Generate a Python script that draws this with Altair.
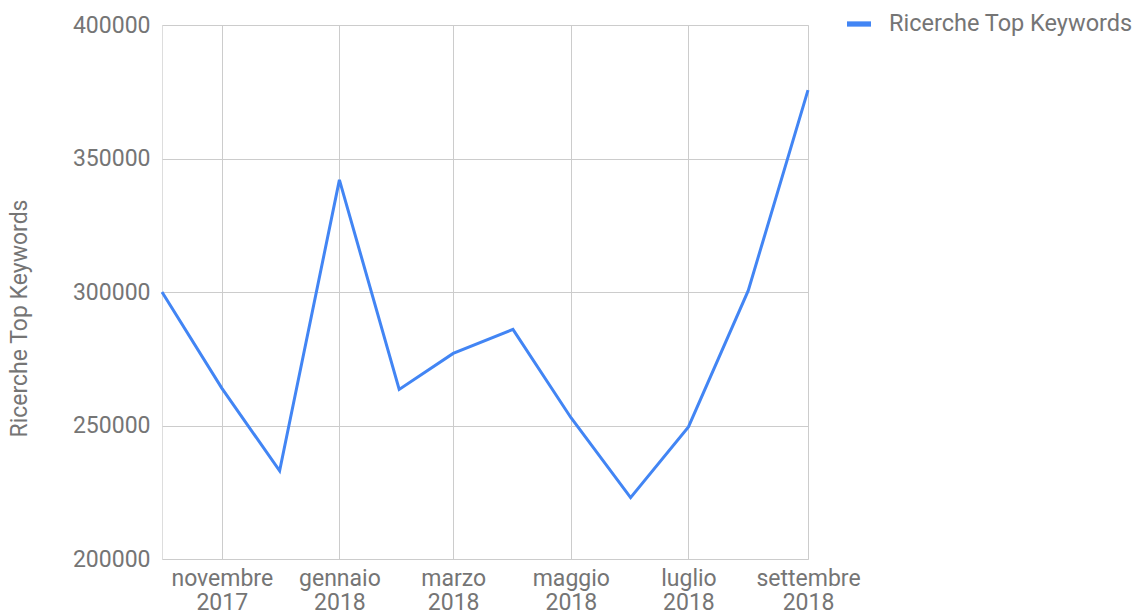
import altair as alt
import pandas as pd

# ---- data ----
mesi = ["2017-10-01", "2017-11-01", "2017-12-01", "2018-01-01", "2018-02-01", "2018-03-01",
        "2018-04-01", "2018-05-01", "2018-06-01", "2018-07-01", "2018-08-01", "2018-09-01"]
ricerche = [300000, 264000, 233000, 342000, 263500, 277000,
            286000, 253000, 223000, 249500, 300500, 375600]
serie_nome = "Ricerche Top Keywords"
tick_mesi = [(2017, 11), (2018, 1), (2018, 3), (2018, 5), (2018, 7), (2018, 9)]
nomi_mesi = ["gennaio", "febbraio", "marzo", "aprile", "maggio", "giugno",
             "luglio", "agosto", "settembre", "ottobre", "novembre", "dicembre"]
y_ticks = [200000, 250000, 300000, 350000, 400000]

df = pd.DataFrame({"mese": mesi, "ricerche": ricerche, "serie": [serie_nome] * len(mesi)})

GREY = "#757575"
BLUE = "#4285f4"
FONT = "Roboto"
FS = 23

label_expr = ("[[" + ",".join(f"'{m}'" for m in nomi_mesi) +
              "][utcmonth(datum.value)], '' + utcyear(datum.value)]")

x_vals = [alt.DateTime(year=y, month=m, date=1, utc=True) for (y, m) in tick_mesi]

chart = alt.Chart(df).mark_line(strokeWidth=3).encode(
    x=alt.X(
        "mese:T",
        scale=alt.Scale(type="utc", nice=False,
                        domain=[alt.DateTime(year=2017, month=10, date=1, utc=True),
                                alt.DateTime(year=2018, month=9, date=1, utc=True)]),
        axis=alt.Axis(title=None, values=x_vals, labelExpr=label_expr,
                      labelFontSize=FS, labelColor=GREY, labelFont=FONT,
                      labelLineHeight=24, labelPadding=8, ticks=False, domain=False,
                      grid=True, gridColor="#cccccc", labelOverlap=False,
                      labelFlush=False),
    ),
    y=alt.Y(
        "ricerche:Q",
        scale=alt.Scale(domain=[200000, 400000], nice=False, zero=False),
        axis=alt.Axis(title=serie_nome, values=y_ticks, format="d",
                      labelFontSize=FS, labelColor=GREY, labelFont=FONT,
                      labelPadding=12, ticks=False, domain=False,
                      grid=True, gridColor="#cccccc",
                      titleFontSize=FS, titleColor=GREY, titleFont=FONT,
                      titleFontWeight="normal", titleX=-143, titleY=293,
                      titleBaseline="middle", titleAlign="center", titleAngle=-90),
    ),
    color=alt.Color(
        "serie:N",
        scale=alt.Scale(range=[BLUE]),
        legend=alt.Legend(title=None, orient="none", legendX=685, legendY=-13,
                          symbolType="M-1,-0.22H1V0.22H-1Z", symbolSize=576,
                          symbolStrokeWidth=0, symbolFillColor=BLUE,
                          labelFontSize=23.5, labelColor=GREY, labelFont=FONT,
                          labelOffset=18, labelLimit=400, padding=0),
    ),
).properties(
    width=646, height=534,
    padding={"left": 154, "top": 17, "right": 327, "bottom": 56},
    autosize=alt.AutoSizeParams(type="none"),
).configure_view(stroke=None).configure(background="white")

chart.save("out.html", embed_options={"renderer": "svg", "actions": False})
